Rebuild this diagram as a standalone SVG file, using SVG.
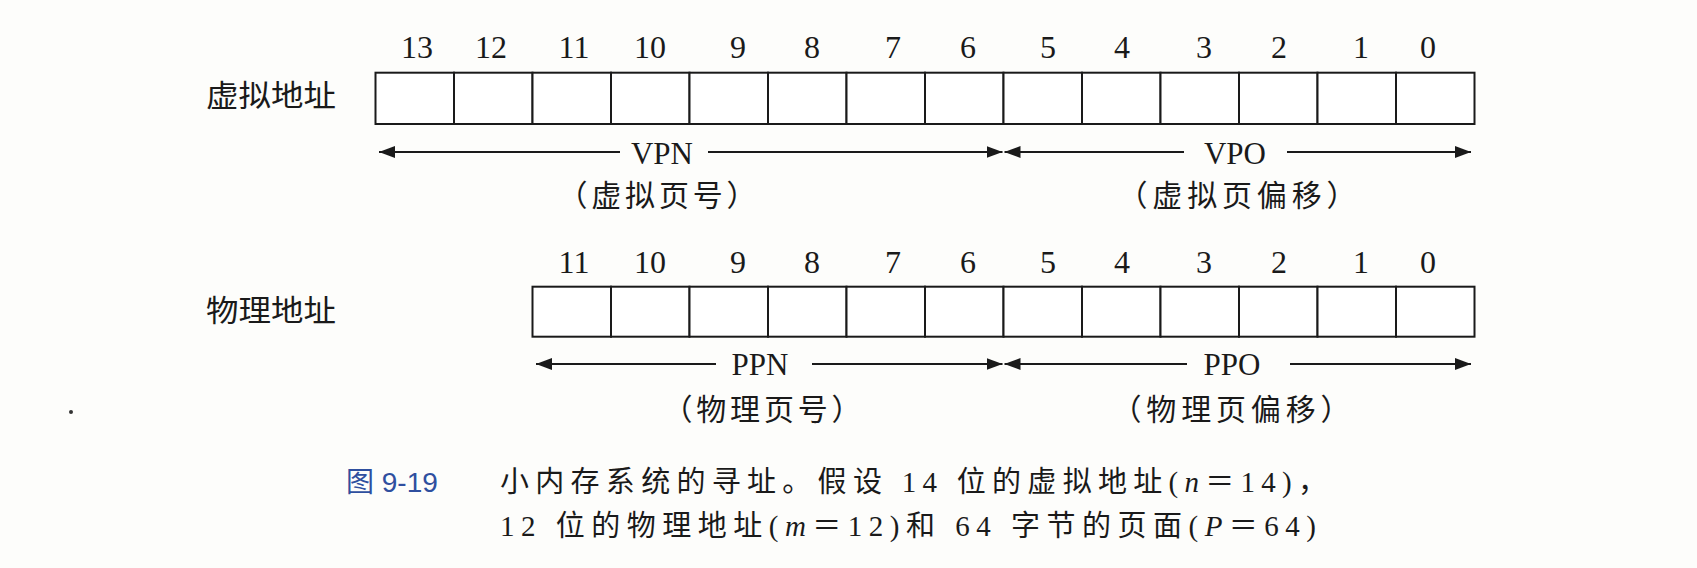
<svg xmlns="http://www.w3.org/2000/svg" width="1697" height="568" viewBox="0 0 1697 568">
<style>
.bg{fill:#fdfdfb}
.cell{fill:#ffffff;stroke:#1a1a1a;stroke-width:2}
.num{font-family:"Liberation Serif","Times New Roman",serif;font-size:32px;fill:#1a1a1a;text-anchor:middle}
.fld{font-family:"Liberation Serif","Times New Roman",serif;font-size:31px;fill:#1a1a1a;text-anchor:middle}
.cjk{font-family:"Noto Sans CJK SC",sans-serif;font-size:30px;fill:#1a1a1a}
.sub{font-family:"Noto Sans CJK SC",sans-serif;font-size:30px;fill:#1a1a1a;text-anchor:middle}
.cap{font-family:"Liberation Serif","Noto Sans CJK SC",serif;font-size:29px;fill:#1a1a1a}
.capn{font-family:"Liberation Sans","Noto Sans CJK SC",sans-serif;font-size:28px;fill:#2f4f9f}
.arr{stroke:#1a1a1a;stroke-width:2;fill:none}
.a1{marker-end:url(#ah)}
.a0{marker-start:url(#ah)}
</style>
<defs>
<marker id="ah" viewBox="0 0 10 10" refX="10" refY="5" markerUnits="userSpaceOnUse" markerWidth="16" markerHeight="12" orient="auto-start-reverse" preserveAspectRatio="none">
<path d="M0,0 L10,5 L0,10 z" fill="#1a1a1a"/>
</marker>
</defs>
<rect class="bg" x="0" y="0" width="1697" height="568"/>

<g id="virtual-label"><text class="cjk" x="206" y="106" textLength="130" lengthAdjust="spacingAndGlyphs">虚拟地址</text></g>

<g id="virtual-address">
<rect class="cell" x="375.5" y="72.7" width="78.5" height="51.3"/>
<rect class="cell" x="454" y="72.7" width="78.5" height="51.3"/>
<rect class="cell" x="532.5" y="72.7" width="78.5" height="51.3"/>
<rect class="cell" x="611" y="72.7" width="78.5" height="51.3"/>
<rect class="cell" x="689.5" y="72.7" width="78.5" height="51.3"/>
<rect class="cell" x="768" y="72.7" width="78.5" height="51.3"/>
<rect class="cell" x="846.5" y="72.7" width="78.5" height="51.3"/>
<rect class="cell" x="925" y="72.7" width="78.5" height="51.3"/>
<rect class="cell" x="1003.5" y="72.7" width="78.5" height="51.3"/>
<rect class="cell" x="1082" y="72.7" width="78.5" height="51.3"/>
<rect class="cell" x="1160.5" y="72.7" width="78.5" height="51.3"/>
<rect class="cell" x="1239" y="72.7" width="78.5" height="51.3"/>
<rect class="cell" x="1317.5" y="72.7" width="78.5" height="51.3"/>
<rect class="cell" x="1396" y="72.7" width="78.5" height="51.3"/>
<text class="num" x="417" y="58">13</text>
<text class="num" x="491" y="58">12</text>
<text class="num" x="574" y="58">11</text>
<text class="num" x="650" y="58">10</text>
<text class="num" x="738" y="58">9</text>
<text class="num" x="812" y="58">8</text>
<text class="num" x="893" y="58">7</text>
<text class="num" x="968" y="58">6</text>
<text class="num" x="1048" y="58">5</text>
<text class="num" x="1122" y="58">4</text>
<text class="num" x="1204" y="58">3</text>
<text class="num" x="1279" y="58">2</text>
<text class="num" x="1361" y="58">1</text>
<text class="num" x="1428" y="58">0</text>
</g>

<g id="vpn">
<text class="fld" x="662" y="164">VPN</text>
<text class="sub" x="657" y="206" textLength="199" lengthAdjust="spacing">（虚拟页号）</text>
</g>
<g id="vpo">
<text class="fld" x="1235" y="164">VPO</text>
<text class="sub" x="1237" y="206" textLength="239" lengthAdjust="spacing">（虚拟页偏移）</text>
</g>

<g id="physical-label"><text class="cjk" x="206" y="321" textLength="130" lengthAdjust="spacingAndGlyphs">物理地址</text></g>

<g id="physical-address">
<rect class="cell" x="532.5" y="286.7" width="78.5" height="50"/>
<rect class="cell" x="611" y="286.7" width="78.5" height="50"/>
<rect class="cell" x="689.5" y="286.7" width="78.5" height="50"/>
<rect class="cell" x="768" y="286.7" width="78.5" height="50"/>
<rect class="cell" x="846.5" y="286.7" width="78.5" height="50"/>
<rect class="cell" x="925" y="286.7" width="78.5" height="50"/>
<rect class="cell" x="1003.5" y="286.7" width="78.5" height="50"/>
<rect class="cell" x="1082" y="286.7" width="78.5" height="50"/>
<rect class="cell" x="1160.5" y="286.7" width="78.5" height="50"/>
<rect class="cell" x="1239" y="286.7" width="78.5" height="50"/>
<rect class="cell" x="1317.5" y="286.7" width="78.5" height="50"/>
<rect class="cell" x="1396" y="286.7" width="78.5" height="50"/>
<text class="num" x="574" y="273">11</text>
<text class="num" x="650" y="273">10</text>
<text class="num" x="738" y="273">9</text>
<text class="num" x="812" y="273">8</text>
<text class="num" x="893" y="273">7</text>
<text class="num" x="968" y="273">6</text>
<text class="num" x="1048" y="273">5</text>
<text class="num" x="1122" y="273">4</text>
<text class="num" x="1204" y="273">3</text>
<text class="num" x="1279" y="273">2</text>
<text class="num" x="1361" y="273">1</text>
<text class="num" x="1428" y="273">0</text>
</g>

<g id="ppn">
<text class="fld" x="760" y="375">PPN</text>
<text class="sub" x="762" y="419.5" textLength="199" lengthAdjust="spacing">（物理页号）</text>
</g>
<g id="ppo">
<text class="fld" x="1232" y="375">PPO</text>
<text class="sub" x="1231" y="419.5" textLength="239" lengthAdjust="spacing">（物理页偏移）</text>
</g>

<g id="connectors">
<line class="arr a0" x1="379" y1="152" x2="620" y2="152"/>
<line class="arr a1" x1="708" y1="152" x2="1002.5" y2="152"/>
<line class="arr a0" x1="1004.5" y1="152" x2="1184" y2="152"/>
<line class="arr a1" x1="1287" y1="152" x2="1471" y2="152"/>
<line class="arr a0" x1="536" y1="364" x2="716" y2="364"/>
<line class="arr a1" x1="812" y1="364" x2="1002.5" y2="364"/>
<line class="arr a0" x1="1004.5" y1="364" x2="1187" y2="364"/>
<line class="arr a1" x1="1290" y1="364" x2="1471" y2="364"/>
</g>

<g id="caption">
<text class="capn" x="346" y="492">图 9-19</text>
<text class="cap" x="500" y="492" textLength="827" lengthAdjust="spacing">小内存系统的寻址。假设 14 位的虚拟地址(<tspan font-style="italic">n</tspan>＝14)，</text>
<text class="cap" x="500" y="536" textLength="816" lengthAdjust="spacing">12 位的物理地址(<tspan font-style="italic">m</tspan>＝12)和 64 字节的页面(<tspan font-style="italic">P</tspan>＝64)</text>
</g>
<circle cx="71" cy="412" r="2" fill="#333"/>
</svg>
